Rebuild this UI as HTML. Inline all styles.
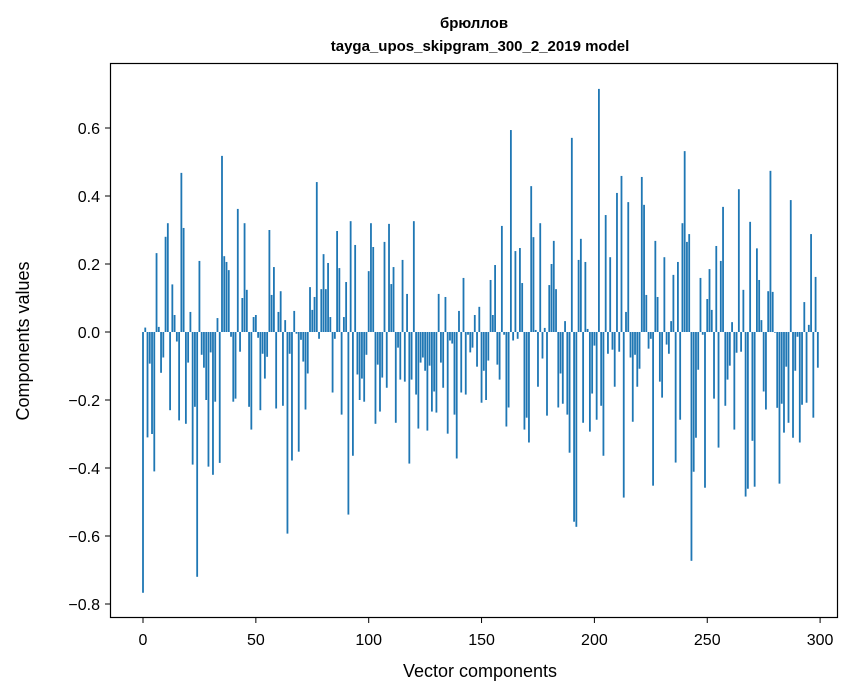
<!DOCTYPE html>
<html><head><meta charset="utf-8"><style>
html,body{margin:0;padding:0;background:#fff;}
svg{display:block;font-family:"Liberation Sans","DejaVu Sans",sans-serif;}
</style></head><body>
<svg id="chart" width="867" height="696" viewBox="0 0 867 696">
<rect x="0" y="0" width="867" height="696" fill="#fff"/>
<text x="474" y="28" text-anchor="middle" font-size="15" font-weight="bold">брюллов</text>
<text x="480" y="51" text-anchor="middle" font-size="15" font-weight="bold">tayga_upos_skipgram_300_2_2019 model</text>
<g id="bars"></g>
<g id="yticks"></g>
<g id="xticks"></g>
<rect x="110.5" y="63.5" width="727" height="554" fill="none" stroke="#000" stroke-width="1.2"/>
<text x="480" y="677" text-anchor="middle" font-size="18">Vector components</text>
<text transform="translate(29,341) rotate(-90)" text-anchor="middle" font-size="18">Components values</text>
</svg>
<script>
const values = [
-0.767,0.013,-0.31,-0.093,-0.30,-0.41,0.232,0.015,-0.12,-0.075,
0.28,0.32,-0.23,0.14,0.05,-0.028,-0.26,0.468,0.306,-0.27,
-0.09,0.059,-0.39,-0.22,-0.72,0.209,-0.067,-0.105,-0.2,-0.396,
-0.06,-0.42,-0.205,0.041,-0.385,0.518,0.223,0.206,0.182,-0.014,
-0.205,-0.196,0.362,-0.058,0.1,0.32,0.124,-0.22,-0.287,0.044,
0.05,-0.017,-0.23,-0.064,-0.137,-0.073,0.3,0.109,0.191,-0.225,
0.059,0.12,-0.217,0.035,-0.593,-0.064,-0.378,0.062,-0.005,-0.352,
-0.023,-0.087,-0.228,-0.122,0.132,0.065,0.103,0.441,-0.02,0.126,
0.229,0.126,0.203,0.044,-0.178,-0.02,0.297,0.188,-0.243,0.044,
0.147,-0.537,0.326,-0.364,0.256,-0.125,-0.2,-0.137,-0.205,-0.067,
0.179,0.32,0.25,-0.27,-0.096,-0.234,-0.134,0.265,-0.164,0.318,
0.141,0.191,-0.267,-0.046,-0.14,0.212,-0.146,0.112,-0.387,-0.14,
0.326,-0.184,-0.284,-0.09,-0.075,-0.114,-0.29,-0.099,-0.234,-0.175,
-0.237,0.112,-0.09,-0.164,0.103,-0.299,-0.025,-0.034,-0.243,-0.372,
0.062,-0.178,0.159,-0.184,-0.008,-0.06,-0.046,0.05,-0.102,0.074,
-0.208,-0.114,-0.2,-0.084,0.153,0.05,0.197,-0.096,-0.14,0.312,
-0.008,-0.278,-0.222,0.594,-0.025,0.238,-0.02,0.247,0.144,-0.287,
-0.252,-0.325,0.429,0.279,0.006,-0.161,0.32,-0.078,0.012,-0.246,
0.138,0.2,0.268,0.126,-0.222,-0.122,-0.211,0.032,-0.243,-0.355,
0.571,-0.558,-0.573,0.212,0.274,-0.267,0.206,0.009,-0.293,-0.181,
-0.04,-0.258,0.715,-0.217,-0.364,0.344,-0.064,0.22,-0.052,-0.161,
0.409,-0.058,0.459,-0.487,0.059,0.382,-0.075,-0.264,-0.067,-0.161,
-0.108,0.456,0.374,0.109,-0.049,-0.02,-0.452,0.268,0.103,-0.146,
-0.193,0.22,-0.037,-0.064,0.032,0.168,-0.384,0.206,-0.258,0.32,
0.532,0.265,0.288,-0.673,-0.411,-0.311,-0.111,0.159,-0.008,-0.458,
0.097,0.185,0.065,-0.196,0.253,-0.34,0.209,0.368,-0.217,-0.14,
-0.099,0.029,-0.287,-0.061,0.42,-0.058,0.124,-0.484,-0.461,0.324,
-0.32,-0.455,0.246,0.153,0.035,-0.175,-0.228,0.12,0.474,0.118,
-0.002,-0.223,-0.446,-0.211,-0.296,-0.102,-0.267,0.388,-0.311,-0.114,
-0.014,-0.325,-0.214,0.088,-0.208,0.021,0.288,-0.252,0.162,-0.105
];
const yTicks = [0.6,0.4,0.2,0.0,-0.2,-0.4,-0.6,-0.8];
const xTicks = [0,50,100,150,200,250,300];

const NS = "http://www.w3.org/2000/svg";
function xScale(i){ return 143 + i*2.257; }
function yScale(v){ return 332 - v*340; }

const barsG = document.getElementById('bars');
values.forEach((v,i)=>{
  const r = document.createElementNS(NS,'rect');
  const w = 0.8*2.257;
  const y0 = yScale(0), y1 = yScale(v);
  r.setAttribute('x', xScale(i)-w/2);
  r.setAttribute('y', Math.min(y0,y1));
  r.setAttribute('width', w);
  r.setAttribute('height', Math.max(Math.abs(y1-y0),0.3));
  r.setAttribute('fill','#1f77b4');
  
  
  barsG.appendChild(r);
});

const yg = document.getElementById('yticks');
yTicks.forEach(t=>{
  const y = yScale(t);
  const l = document.createElementNS(NS,'line');
  l.setAttribute('x1',105); l.setAttribute('x2',110);
  l.setAttribute('y1',y); l.setAttribute('y2',y);
  l.setAttribute('stroke','#000');
  
  
  yg.appendChild(l);
  const tx = document.createElementNS(NS,'text');
  tx.setAttribute('x',100); tx.setAttribute('y',y+6);
  tx.setAttribute('text-anchor','end'); tx.setAttribute('font-size','16');
  tx.textContent = (t<0?'\u2212':'') + Math.abs(t).toFixed(1);
  
  
  yg.appendChild(tx);
});

const xg = document.getElementById('xticks');
xTicks.forEach(t=>{
  const x = xScale(t);
  const l = document.createElementNS(NS,'line');
  l.setAttribute('x1',x); l.setAttribute('x2',x);
  l.setAttribute('y1',618); l.setAttribute('y2',623);
  l.setAttribute('stroke','#000');
  
  
  xg.appendChild(l);
  const tx = document.createElementNS(NS,'text');
  tx.setAttribute('x',x); tx.setAttribute('y',645);
  tx.setAttribute('text-anchor','middle'); tx.setAttribute('font-size','16');
  tx.textContent = String(t);
  
  
  xg.appendChild(tx);
});
</script>
</body></html>
